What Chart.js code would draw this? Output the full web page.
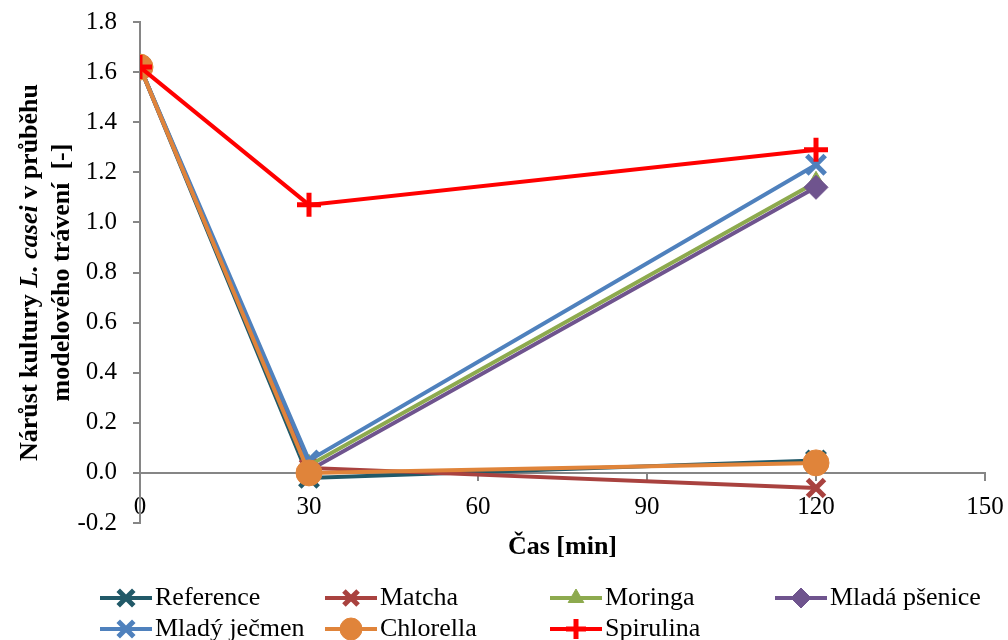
<!DOCTYPE html>
<html>
<head>
<meta charset="utf-8">
<script src="https://cdn.jsdelivr.net/npm/chart.js@4.4.1/dist/chart.umd.min.js"></script>
<style>
  body { margin: 0; background: #fff; font-family: "Liberation Serif", "Times New Roman", serif; }
  #wrap { width: 1008px; height: 640px; }
  .warm { position: absolute; left: -999px; top: 0; font-size: 24px; }
</style>
</head>
<body>
<span class="warm">Čas <b>bold</b> <b><i>italic</i></b></span>
<div id="wrap"><canvas id="growthChart" width="1008" height="640"></canvas></div>
<script>
// time points [min]
const timePoints = [0, 30, 120];
const xTicks = [0, 30, 60, 90, 120, 150];

// growth values
const reference = [1.62, -0.02, 0.05];
const matcha = [1.62, 0.02, -0.06];
const moringa = [1.62, 0.03, 1.16];
const mladaPsenice = [1.62, 0.01, 1.14];
const mladyJecmen = [1.62, 0.05, 1.23];
const chlorella = [1.62, 0.00, 0.04];
const spirulina = [1.62, 1.07, 1.29];

const seriesNames = ['Reference', 'Matcha', 'Moringa', 'Mladá pšenice', 'Mladý ječmen', 'Chlorella', 'Spirulina'];
const seriesValues = [reference, matcha, moringa, mladaPsenice, mladyJecmen, chlorella, spirulina];

const seriesColors = ['#215968', '#A9423F', '#8DAA4E', '#6F548E', '#4F81BD', '#E0843A', '#FF0000'];
const seriesMarkers = ['crossRot', 'crossRot', 'triangle', 'rectRot', 'crossRot', 'circle', 'cross'];
const markerRadius = [13, 12, 11, 12, 13, 13, 12];

const FONT = '"Liberation Serif", "Times New Roman", serif';

const datasets = seriesNames.map((name, i) => ({
    label: name,
    data: timePoints.map((t, j) => ({ x: t, y: seriesValues[i][j] })),
    borderColor: seriesColors[i],
    backgroundColor: seriesColors[i],
    pointBackgroundColor: seriesColors[i],
    pointBorderColor: seriesColors[i],
    pointStyle: seriesMarkers[i],
    pointRadius: markerRadius[i],
    pointBorderWidth: seriesMarkers[i] === 'crossRot' || seriesMarkers[i] === 'cross' ? 5 : 1,
    borderWidth: 4,
    tension: 0,
    fill: false,
    order: seriesNames.length - i   // later series on top, like Excel
}));

// y axis title with italic part, drawn rotated
const yTitlePlugin = {
    id: 'yTitle',
    afterDraw(chart) {
        const ctx = chart.ctx;
        const area = chart.chartArea;
        const cy = (area.top + area.bottom) / 2;
        const lines = [
            { x: 30, parts: [['Nárůst kultury ', false], ['L. casei', true], [' v průběhu', false]] },
            { x: 62, parts: [['modelového trávení  [-]', false]] }
        ];
        ctx.save();
        ctx.fillStyle = '#000';
        ctx.textBaseline = 'middle';
        ctx.textAlign = 'left';
        lines.forEach(line => {
            const fonts = line.parts.map(p => (p[1] ? 'italic ' : '') + 'bold 26px ' + FONT);
            let total = 0;
            const widths = line.parts.map((p, k) => {
                ctx.font = fonts[k];
                const w = ctx.measureText(p[0]).width;
                total += w;
                return w;
            });
            ctx.save();
            ctx.translate(line.x, cy);
            ctx.rotate(-Math.PI / 2);
            let pos = -total / 2;
            line.parts.forEach((p, k) => {
                ctx.font = fonts[k];
                ctx.fillText(p[0], pos, 0);
                pos += widths[k];
            });
            ctx.restore();
        });
        ctx.restore();
    }
};

// legend in a fixed 4-column grid, line + marker like Excel
const gridLegendPlugin = {
    id: 'gridLegend',
    afterDraw(chart) {
        const ctx = chart.ctx;
        const colX = [100, 325, 550, 775];
        const rowY = [598, 629];
        ctx.save();
        chart.data.datasets.forEach((ds, i) => {
            const x = colX[i % 4];
            const y = rowY[Math.floor(i / 4)];
            ctx.strokeStyle = ds.borderColor;
            ctx.lineWidth = 4;
            ctx.beginPath();
            ctx.moveTo(x, y);
            ctx.lineTo(x + 52, y);
            ctx.stroke();
            ctx.fillStyle = ds.borderColor;
            ctx.lineWidth = ds.pointBorderWidth;
            Chart.helpers.drawPoint(ctx, {
                pointStyle: ds.pointStyle,
                radius: ds.pointRadius - 2,
                borderWidth: ds.pointBorderWidth,
                rotation: 0
            }, x + 26, y);
            ctx.fillStyle = '#000';
            ctx.font = '26px ' + FONT;
            ctx.textBaseline = 'middle';
            ctx.textAlign = 'left';
            ctx.fillText(ds.label, x + 55, y);
        });
        ctx.restore();
    }
};

const ctx = document.getElementById('growthChart').getContext('2d');
const growthChart = new Chart(ctx, {
    type: 'line',
    data: { datasets: datasets },
    plugins: [yTitlePlugin, gridLegendPlugin],
    options: {
        responsive: false,
        animation: false,
        layout: { padding: { left: 0, right: 23, top: 22, bottom: 117 } },
        plugins: {
            legend: { display: false },
            tooltip: { enabled: false }
        },
        scales: {
            x: {
                type: 'linear',
                position: { y: 0 },
                min: 0,
                max: 150,
                afterBuildTicks(scale) {
                    scale.ticks = xTicks.map(v => ({ value: v }));
                },
                afterFit(scale) {
                    scale.paddingLeft = 0;
                    scale.paddingRight = 0;
                },
                grid: { drawOnChartArea: false, drawTicks: true, tickLength: 7, color: '#868686', lineWidth: 2 },
                border: { color: '#868686', width: 2 },
                ticks: { color: '#000', font: { family: FONT, size: 25 }, padding: 13, maxRotation: 0 },
                title: { display: true, text: 'Čas [min]', color: '#000', font: { family: FONT, size: 26, weight: 'bold' }, padding: { top: -4 } }
            },
            y: {
                min: -0.2,
                max: 1.8,
                afterFit(scale) {
                    scale.width = 140;
                    scale.paddingTop = 0;
                    scale.paddingBottom = 0;
                },
                grid: { drawOnChartArea: false, drawTicks: true, tickLength: 7, color: '#868686', lineWidth: 2 },
                border: { color: '#868686', width: 2 },
                ticks: {
                    stepSize: 0.2,
                    color: '#000',
                    font: { family: FONT, size: 25 },
                    padding: 16,
                    callback: v => v.toFixed(1)
                }
            }
        }
    }
});

// redraw once local fonts are ready
if (document.fonts && document.fonts.ready) {
    document.fonts.ready.then(() => growthChart.update());
}
</script>
</body>
</html>
